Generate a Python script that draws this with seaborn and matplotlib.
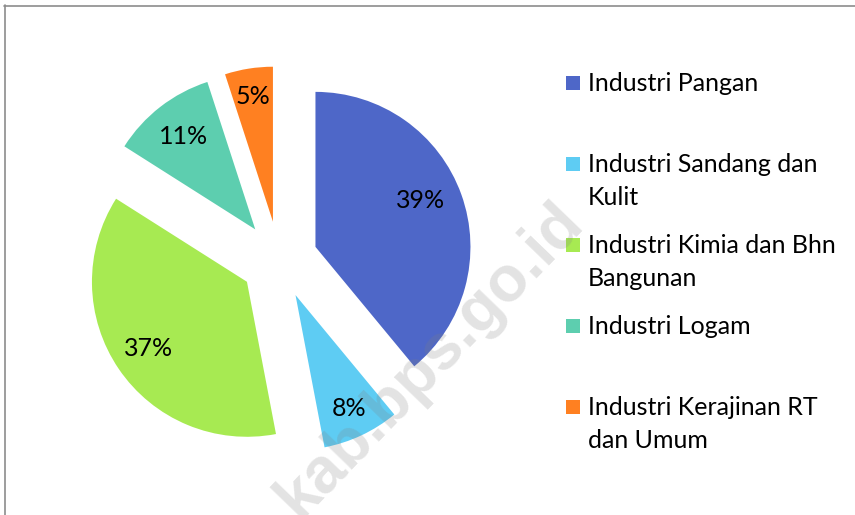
import matplotlib
matplotlib.use('Agg')
import matplotlib.pyplot as plt
import numpy as np
import seaborn as sns
from matplotlib.lines import Line2D
from matplotlib.patches import Rectangle

# Data

categories = ['Industri Pangan',
              'Industri Sandang dan\nKulit',
              'Industri Kimia dan Bhn\nBangunan',
              'Industri Logam',
              'Industri Kerajinan RT\ndan Umum']
shares = [39, 8, 37, 11, 5]
colors = ['#4E67C8', '#5ECCF3', '#A7EA52', '#5DCEAF', '#FF8021']

# Util

sns.set_theme(style='white')
plt.rcParams['font.family'] = ['Lato', 'DejaVu Sans']

W, H = 855, 515
R = 155          # pie radius, px
CX, CY = 279, 260  # pie centre, px from top-left


def fx(px):
    return px / W


def fy(py):
    return 1 - py / H


fig = plt.figure(figsize=(W / 100, H / 100), dpi=100)
ax = fig.add_axes([0, 0, 1, 1])

palette = sns.color_palette(colors)
wedges, texts, autotexts = ax.pie(
    shares, colors=palette, startangle=90, counterclock=False,
    explode=[0.25] * len(shares), autopct='%1.0f%%', pctdistance=0.78,
    wedgeprops=dict(linewidth=0), textprops=dict(fontsize=18, color='black'))

# nudge labels like excel's best fit
label_dist = [0.74, 0.81, 0.77, 0.76, 0.82]
label_turn = [4, 0, 0, 0, 0]  # degrees, ccw
for w, t, d, a in zip(wedges, autotexts, label_dist, label_turn):
    mid = np.deg2rad((w.theta1 + w.theta2) / 2 + a)
    t.set_position((w.center[0] + d * np.cos(mid), w.center[1] + d * np.sin(mid)))
    t.set_ha('center')
    t.set_va('center')

ax.set_xlim(-CX / R, (W - CX) / R)
ax.set_ylim((CY - H) / R, CY / R)
ax.set_aspect('auto')
ax.axis('off')

# legend, drawn by hand to keep excel spacing
for i, (lab, col) in enumerate(zip(categories, palette)):
    y = 83 + i * 81
    fig.add_artist(Rectangle((fx(566), fy(y + 7)), 14 / W, 14 / H,
                             transform=fig.transFigure, color=col, lw=0))
    fig.text(fx(588), fy(y - 11), lab, fontsize=18, va='top', ha='left',
             linespacing=1.55, color='black')

# watermark
fig.text(fx(430), fy(360), 'kab.bps.go.id', fontsize=46, fontweight='bold',
         family=['Liberation Sans', 'DejaVu Sans'], color='#808080', alpha=0.22,
         rotation=46, ha='center', va='center')

# chart border
border = '#8C8C8C'
fig.add_artist(Line2D([fx(4.5), fx(4.5)], [fy(5), 0], transform=fig.transFigure,
                      color=border, lw=1.2))
fig.add_artist(Line2D([fx(4), 1], [fy(5.5), fy(5.5)], transform=fig.transFigure,
                      color=border, lw=1.2))

fig.savefig('out.png', dpi=100)
